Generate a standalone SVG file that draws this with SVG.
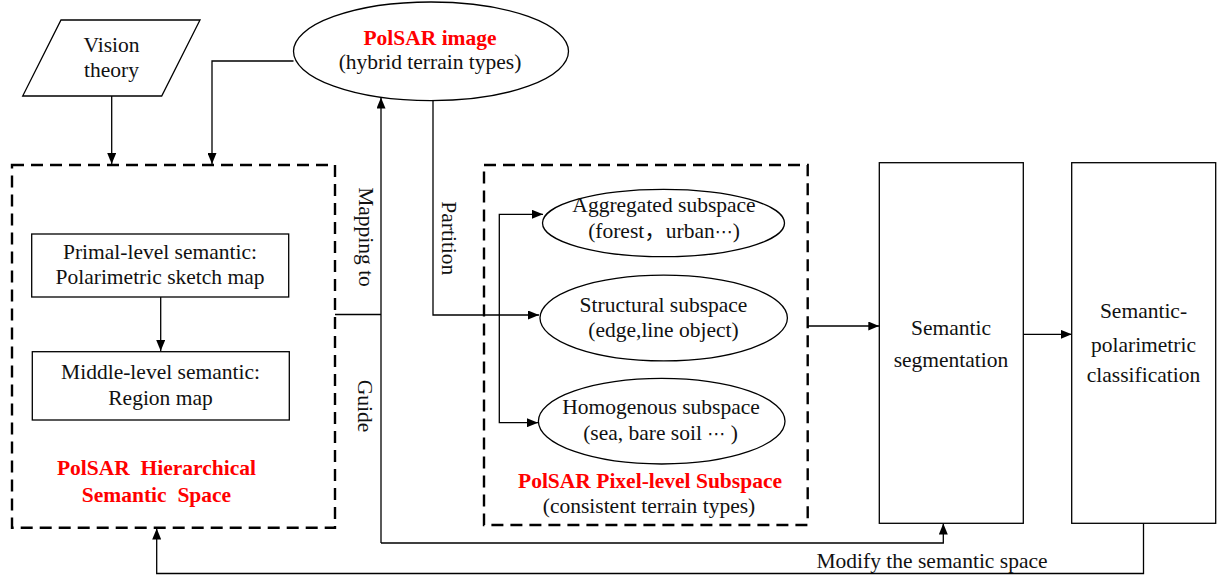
<svg xmlns="http://www.w3.org/2000/svg" width="1224" height="580" viewBox="0 0 1224 580">
  <defs>
    <marker id="arrow" markerUnits="userSpaceOnUse" markerWidth="11" markerHeight="9" refX="11" refY="4.5" orient="auto">
      <path d="M0,0 L11,4.5 L0,9 z" fill="#000"/>
    </marker>
    <style>
      text { font-family: "Liberation Serif", "Times New Roman", "Noto Sans CJK SC", serif; font-size: 21.5px; fill: #111; text-anchor: middle; }
      .title { font-weight: bold; fill: #ff0000; white-space: pre; }
      .dots { font-family: "DejaVu Sans", sans-serif; font-size: 18px; }
      .shape { fill: #fff; stroke: #000; stroke-width: 1.3; }
      .group { fill: none; stroke: #000; stroke-width: 2.4; stroke-dasharray: 12 7; }
      .link { fill: none; stroke: #000; stroke-width: 1.3; }
      .link.arrow { marker-end: url(#arrow); }
    </style>
  </defs>
  <rect width="1224" height="580" fill="#fff"/>

  <!-- connectors -->
  <g id="connectors">
    <path class="link arrow" d="M111.7,96 V164"/>
    <path class="link arrow" d="M293.5,61 H212 V164"/>
    <path class="link" d="M335,314.5 H381"/>
    <path class="link arrow" d="M381,543 V97.5"/>
    <path class="link arrow" d="M381,543 H943.3 V523.5"/>
    <path class="link arrow" d="M433,100.5 V315 H539"/>
    <path class="link arrow" d="M499.3,315 V214.3 H543"/>
    <path class="link arrow" d="M499.3,315 V422.7 H538"/>
    <path class="link arrow" d="M808,326 H879.3"/>
    <path class="link arrow" d="M1023.3,334.3 H1071.7"/>
    <path class="link arrow" d="M1143.5,523.3 V573.5 H156.7 V528.5"/>
    <text x="932" y="567.5">Modify the semantic space</text>
    <text transform="translate(358.5,237) rotate(90)">Mapping to</text>
    <text transform="translate(442,238.3) rotate(90)">Partition</text>
    <text transform="translate(358,406) rotate(90)">Guide</text>
  </g>

  <!-- input: vision theory -->
  <g id="vision-theory">
    <polygon class="shape" points="61,20 200,20 161.7,96 22.7,96"/>
    <text x="111.5" y="52.3">Vision</text>
    <text x="111.5" y="77.3">theory</text>
  </g>

  <!-- input: PolSAR image -->
  <g id="polsar-image">
    <ellipse class="shape" cx="431" cy="51.3" rx="137.5" ry="49.3"/>
    <text class="title" x="430" y="45">PolSAR image</text>
    <text x="430" y="69">(hybrid terrain types)</text>
  </g>

  <!-- hierarchical semantic space -->
  <g id="hierarchical-space">
    <rect class="group" x="12" y="165" width="323" height="362.7"/>
    <text class="title" x="156.5" y="475">PolSAR  Hierarchical</text>
    <text class="title" x="156.5" y="501.7">Semantic  Space</text>
  </g>
  <g id="primal-level">
    <rect class="shape" x="31.7" y="234" width="257" height="63"/>
    <text x="160" y="259">Primal-level semantic:</text>
    <text x="160" y="284.3">Polarimetric sketch map</text>
  </g>
  <g id="middle-level">
    <rect class="shape" x="32.3" y="351.7" width="257" height="68.3"/>
    <text x="160.5" y="379">Middle-level semantic:</text>
    <text x="160.5" y="405">Region map</text>
  </g>
  <path class="link arrow" d="M160.7,297 V351"/>

  <!-- pixel-level subspace -->
  <g id="pixel-subspace">
    <rect class="group" x="484" y="165" width="323.7" height="360"/>
    <text class="title" x="650" y="488.3">PolSAR Pixel-level Subspace</text>
    <text x="649" y="513.3">(consistent terrain types)</text>
  </g>
  <g id="aggregated-subspace">
    <ellipse class="shape" cx="663.5" cy="223" rx="121" ry="33.7"/>
    <text x="664" y="212.3">Aggregated subspace</text>
    <text x="664" y="238.3">(forest，urban<tspan class="dots">⋯</tspan>)</text>
  </g>
  <g id="structural-subspace">
    <ellipse class="shape" cx="663.7" cy="318" rx="123.7" ry="42.8"/>
    <text x="663.5" y="311.7">Structural subspace</text>
    <text x="663.5" y="336.7">(edge,line object)</text>
  </g>
  <g id="homogenous-subspace">
    <ellipse class="shape" cx="661.7" cy="421.2" rx="123.3" ry="42.8"/>
    <text x="661" y="414">Homogenous subspace</text>
    <text x="660.5" y="440">(sea, bare soil <tspan class="dots">⋯</tspan> )</text>
  </g>

  <!-- processing stages -->
  <g id="semantic-segmentation">
    <rect class="shape" x="879.3" y="162.7" width="144" height="360.6"/>
    <text x="951" y="335">Semantic</text>
    <text x="951" y="366.5">segmentation</text>
  </g>
  <g id="classification">
    <rect class="shape" x="1071.7" y="162.7" width="144" height="360.6"/>
    <text x="1143.5" y="318.3">Semantic-</text>
    <text x="1143.5" y="351.7">polarimetric</text>
    <text x="1143.5" y="382.3">classification</text>
  </g>
</svg>
